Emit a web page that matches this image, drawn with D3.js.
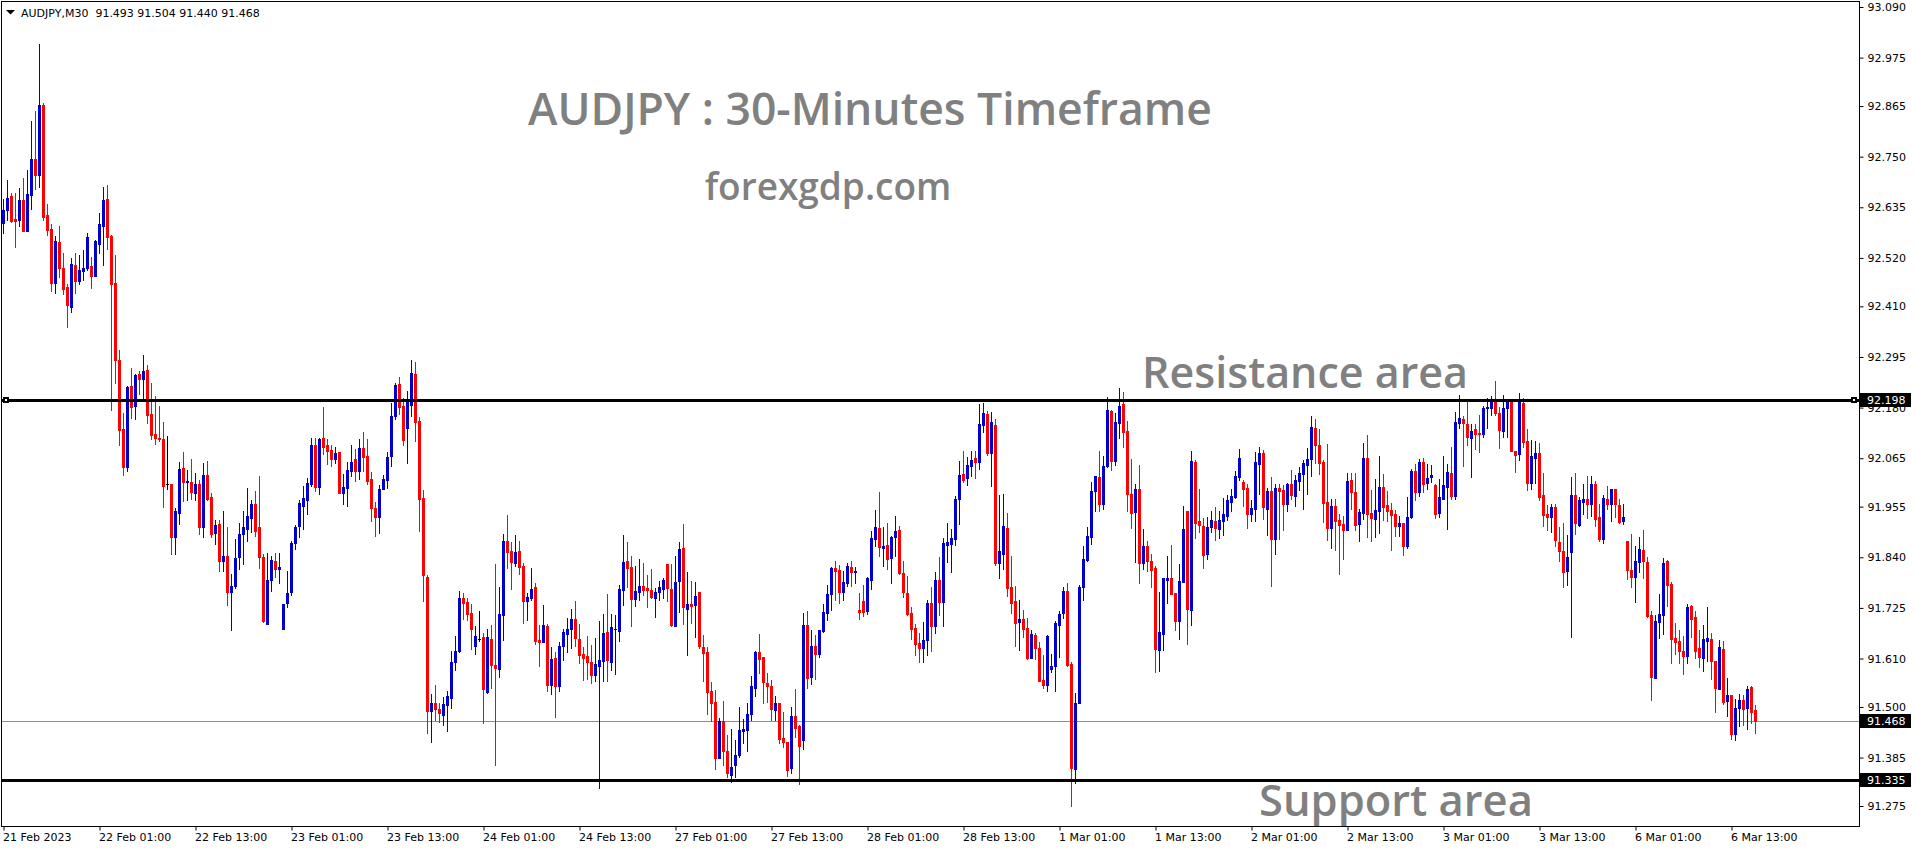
<!DOCTYPE html>
<html><head><meta charset="utf-8">
<script src="https://cdn.jsdelivr.net/npm/d3@7"></script>
<style>body{margin:0;background:#fff;overflow:hidden}svg{display:block}</style>
</head><body>
<svg id="chart" width="1916" height="850"></svg>
<script>
// ---------------- DATA ----------------
const headerText = "AUDJPY,M30  91.493 91.504 91.440 91.468";
const titleText = "AUDJPY : 30-Minutes Timeframe";
const siteText = "forexgdp.com";
const resistanceText = "Resistance area";
const supportText = "Support area";

const timeLabels = ["21 Feb 2023","22 Feb 01:00","22 Feb 13:00","23 Feb 01:00","23 Feb 13:00","24 Feb 01:00","24 Feb 13:00","27 Feb 01:00","27 Feb 13:00","28 Feb 01:00","28 Feb 13:00","1 Mar 01:00","1 Mar 13:00","2 Mar 01:00","2 Mar 13:00","3 Mar 01:00","3 Mar 13:00","6 Mar 01:00","6 Mar 13:00"];
const timeLabelBars = [0,24,48,72,96,120,144,168,192,216,240,264,288,312,336,360,384,408,432];
const priceTicks = [93.090,92.975,92.865,92.750,92.635,92.520,92.410,92.295,92.180,92.065,91.955,91.840,91.725,91.610,91.500,91.385,91.275];
const resistanceLevel = 92.198;
const supportLevel = 91.335;
const lastPrice = 91.468;

const open = [
92.599,92.629,92.661,92.609,92.607,92.651,92.582,92.662,92.745,92.709,
92.867,92.618,92.586,92.463,92.557,92.498,92.454,92.409,92.504,92.468,
92.490,92.496,92.502,92.480,92.552,92.593,92.654,92.570,92.463,92.289,
92.132,92.046,92.230,92.183,92.256,92.244,92.266,92.166,92.120,92.111,
92.109,92.006,92.006,91.885,91.941,92.043,92.010,92.012,91.985,92.006,
91.909,92.027,91.977,91.895,91.915,91.832,91.843,91.762,91.775,91.841,
91.893,91.905,91.930,91.961,91.908,91.841,91.689,91.788,91.832,91.813,
91.676,91.737,91.762,91.872,91.910,91.956,91.970,92.006,92.095,92.000,
92.111,92.095,92.084,92.063,92.079,91.987,91.998,92.036,92.063,92.036,
92.089,92.070,92.018,91.952,91.932,91.994,92.016,92.069,92.161,92.234,
92.184,92.134,92.187,92.256,92.150,91.975,91.795,91.490,91.510,91.495,
91.482,91.505,91.521,91.601,91.627,91.748,91.738,91.714,91.639,91.654,
91.659,91.535,91.654,91.595,91.587,91.709,91.877,91.854,91.828,91.854,
91.820,91.741,91.748,91.773,91.652,91.648,91.684,91.550,91.611,91.548,
91.638,91.666,91.676,91.700,91.654,91.620,91.616,91.602,91.573,91.593,
91.605,91.670,91.602,91.676,91.673,91.766,91.832,91.818,91.745,91.760,
91.775,91.770,91.766,91.748,91.761,91.769,91.825,91.768,91.685,91.785,
91.861,91.723,91.734,91.732,91.761,91.637,91.625,91.536,91.511,91.383,
91.468,91.400,91.346,91.369,91.391,91.446,91.448,91.485,91.543,91.625,
91.614,91.554,91.548,91.493,91.509,91.430,91.421,91.361,91.480,91.457,
91.424,91.686,91.568,91.638,91.620,91.673,91.714,91.757,91.816,91.811,
91.760,91.782,91.818,91.807,91.720,91.741,91.718,91.788,91.882,91.906,
91.861,91.868,91.839,91.885,91.902,91.804,91.759,91.714,91.679,91.645,
91.635,91.651,91.736,91.683,91.788,91.739,91.869,91.871,91.882,91.973,
92.029,92.019,92.048,92.066,92.057,92.141,92.165,92.078,92.141,91.828,
91.848,91.907,91.773,91.741,91.692,91.700,91.680,91.612,91.664,91.634,
91.561,91.549,91.587,91.592,91.687,91.714,91.764,91.598,91.359,91.509,
91.773,91.834,91.887,91.991,92.022,91.962,92.047,92.172,92.059,92.145,
92.188,92.127,91.984,91.943,91.995,91.827,91.866,91.832,91.816,91.629,
91.666,91.788,91.793,91.759,91.695,91.784,91.945,91.720,92.056,91.922,
91.911,91.847,91.909,91.922,91.904,91.922,91.934,91.966,91.977,92.022,
92.011,91.998,91.938,91.950,92.052,92.077,91.950,91.991,91.882,91.997,
91.993,91.961,92.006,91.979,92.013,92.029,92.050,92.063,92.134,92.095,
92.056,91.966,91.907,91.957,91.925,91.916,91.901,92.016,91.988,91.916,
91.941,92.066,91.941,91.928,91.944,92.000,91.959,91.947,91.938,91.910,
91.918,91.866,91.932,92.036,91.989,92.056,92.009,92.023,92.004,91.941,
91.973,92.000,92.031,91.979,92.144,92.154,92.143,92.111,92.131,92.122,
92.120,92.178,92.179,92.193,92.168,92.127,92.178,92.193,92.081,92.075,
92.190,92.104,92.009,92.066,92.077,91.982,91.938,91.932,91.954,91.875,
91.854,91.809,91.852,91.981,91.913,91.966,91.972,91.961,92.006,91.932,
91.882,91.972,91.961,91.995,91.959,91.923,91.877,91.811,91.795,91.829,
91.857,91.829,91.709,91.566,91.693,91.709,91.832,91.779,91.657,91.650,
91.627,91.616,91.729,91.704,91.634,91.611,91.650,91.654,91.604,91.541,
91.632,91.514,91.527,91.439,91.498,91.516,91.498,91.545,91.493];

const high = [
92.653,92.698,92.667,92.667,92.678,92.702,92.719,92.832,92.854,93.006,
92.872,92.643,92.598,92.570,92.593,92.531,92.460,92.520,92.531,92.527,
92.538,92.577,92.522,92.561,92.622,92.682,92.686,92.571,92.527,92.311,
92.168,92.230,92.271,92.256,92.263,92.299,92.277,92.237,92.207,92.183,
92.147,92.115,92.006,91.953,92.057,92.079,92.038,92.063,92.031,92.015,
92.054,92.059,91.987,91.925,91.925,91.946,91.909,91.802,91.881,91.918,
91.945,91.997,91.970,91.991,92.025,91.847,91.850,91.843,91.850,91.850,
91.733,91.809,91.877,91.913,91.969,92.001,92.020,92.111,92.111,92.110,
92.181,92.109,92.094,92.090,92.079,92.029,92.056,92.095,92.086,92.109,
92.125,92.109,92.034,91.966,92.004,92.027,92.079,92.190,92.237,92.249,
92.201,92.218,92.288,92.284,92.159,91.993,91.800,91.530,91.550,91.510,
91.522,91.536,91.627,91.661,91.763,91.759,91.748,91.733,91.684,91.718,
91.667,91.677,91.686,91.825,91.773,91.893,91.936,91.875,91.891,91.877,
91.827,91.758,91.816,91.782,91.686,91.732,91.689,91.636,91.625,91.648,
91.677,91.702,91.723,91.741,91.689,91.636,91.661,91.641,91.657,91.695,
91.711,91.757,91.711,91.709,91.777,91.891,91.875,91.843,91.820,91.836,
91.827,91.800,91.813,91.770,91.786,91.793,91.825,91.825,91.843,91.875,
91.916,91.807,91.786,91.784,91.761,91.663,91.636,91.557,91.539,91.475,
91.514,91.436,91.450,91.425,91.500,91.473,91.509,91.570,91.627,91.666,
91.614,91.577,91.561,91.525,91.509,91.489,91.421,91.500,91.541,91.459,
91.713,91.718,91.675,91.663,91.675,91.734,91.777,91.818,91.832,91.823,
91.809,91.827,91.832,91.818,91.759,91.777,91.795,91.900,91.947,91.988,
91.909,91.917,91.888,91.934,91.910,91.831,91.798,91.727,91.689,91.668,
91.693,91.743,91.773,91.807,91.841,91.884,91.918,91.904,91.979,92.059,
92.081,92.068,92.081,92.081,92.188,92.190,92.172,92.170,92.154,91.981,
91.984,91.941,91.843,91.775,91.743,91.720,91.703,91.675,91.668,91.648,
91.618,91.664,91.620,91.696,91.718,91.773,91.782,91.602,91.532,91.777,
91.866,91.909,92.010,92.025,92.081,92.070,92.205,92.174,92.168,92.225,
92.215,92.150,92.063,92.006,92.050,91.904,91.877,91.847,91.820,91.761,
91.793,91.843,91.868,91.759,91.825,91.956,91.945,92.081,92.061,91.995,
91.929,91.931,91.945,91.954,91.945,91.975,91.981,91.995,92.036,92.086,
92.016,92.006,91.970,92.079,92.090,92.084,91.997,92.022,92.006,92.006,
92.004,92.009,92.038,92.027,92.045,92.061,92.088,92.161,92.154,92.131,
92.061,92.097,91.972,91.972,91.938,91.934,92.031,92.031,92.031,91.950,
92.100,92.118,91.993,92.018,92.070,92.029,91.991,91.963,91.947,91.934,
91.918,91.977,92.041,92.052,92.063,92.066,92.052,92.050,92.006,92.018,
92.070,92.052,92.091,92.170,92.209,92.161,92.193,92.143,92.143,92.163,
92.184,92.202,92.206,92.240,92.182,92.209,92.197,92.197,92.081,92.213,
92.202,92.131,92.106,92.104,92.100,92.031,91.959,91.961,91.961,91.909,
91.918,91.891,92.022,92.031,91.977,92.006,92.025,92.025,92.013,91.961,
91.981,92.002,91.995,91.995,91.972,91.961,91.877,91.893,91.866,91.886,
91.902,91.841,91.718,91.709,91.757,91.838,91.834,91.784,91.691,91.675,
91.661,91.734,91.732,91.718,91.675,91.686,91.727,91.668,91.604,91.652,
91.650,91.566,91.527,91.518,91.530,91.527,91.548,91.548,91.504];

const low = [
92.576,92.607,92.602,92.544,92.593,92.582,92.582,92.631,92.677,92.682,
92.607,92.571,92.444,92.441,92.477,92.437,92.362,92.398,92.441,92.460,
92.470,92.493,92.452,92.479,92.531,92.505,92.541,92.175,92.237,92.096,
92.028,92.035,92.157,92.154,92.211,92.198,92.144,92.109,92.098,92.105,
91.954,91.994,91.847,91.847,91.916,91.967,91.971,91.973,91.969,91.894,
91.887,91.971,91.887,91.870,91.809,91.809,91.732,91.675,91.771,91.813,
91.825,91.877,91.898,91.888,91.816,91.694,91.689,91.764,91.796,91.782,
91.676,91.728,91.754,91.859,91.887,91.904,91.939,92.003,91.991,91.984,
92.074,92.052,92.047,92.054,91.986,91.961,91.957,92.025,92.014,92.017,
92.037,92.006,91.922,91.889,91.896,91.994,91.998,92.048,92.155,92.166,
92.096,92.055,92.161,92.105,91.900,91.741,91.440,91.420,91.470,91.465,
91.459,91.446,91.498,91.584,91.625,91.700,91.698,91.632,91.620,91.650,
91.464,91.532,91.544,91.368,91.569,91.653,91.816,91.769,91.820,91.801,
91.691,91.698,91.742,91.644,91.594,91.648,91.536,91.530,91.478,91.537,
91.607,91.625,91.634,91.639,91.600,91.561,91.564,91.555,91.558,91.317,
91.558,91.560,91.584,91.575,91.650,91.732,91.773,91.684,91.729,91.743,
91.754,91.727,91.748,91.704,91.743,91.748,91.741,91.685,91.685,91.716,
91.689,91.619,91.691,91.660,91.633,91.560,91.485,91.469,91.360,91.383,
91.369,91.342,91.329,91.340,91.387,91.419,91.399,91.470,91.525,91.578,
91.508,91.512,91.470,91.471,91.419,91.408,91.343,91.349,91.431,91.324,
91.405,91.542,91.553,91.564,91.614,91.670,91.698,91.720,91.743,91.735,
91.743,91.775,91.775,91.782,91.700,91.707,91.711,91.768,91.866,91.843,
91.820,91.814,91.782,91.844,91.801,91.749,91.708,91.654,91.619,91.601,
91.601,91.619,91.628,91.667,91.710,91.683,91.830,91.807,91.869,91.916,
92.012,92.005,92.025,92.021,92.041,92.125,92.073,92.003,91.823,91.794,
91.814,91.751,91.714,91.639,91.630,91.660,91.608,91.612,91.610,91.558,
91.542,91.537,91.580,91.537,91.614,91.703,91.594,91.274,91.328,91.508,
91.744,91.832,91.871,91.946,91.944,91.950,92.045,92.038,92.050,92.111,
92.090,91.945,91.907,91.829,91.782,91.813,91.809,91.772,91.579,91.582,
91.629,91.736,91.757,91.675,91.654,91.784,91.643,91.686,91.884,91.897,
91.816,91.836,91.897,91.879,91.884,91.891,91.925,91.945,91.975,92.015,
91.956,91.907,91.922,91.922,91.984,91.927,91.891,91.775,91.847,91.882,
91.902,91.945,91.972,91.956,91.993,91.950,91.984,92.025,92.054,92.029,
91.920,91.880,91.860,91.857,91.801,91.837,91.901,91.950,91.903,91.876,
91.928,91.887,91.878,91.885,91.896,91.925,91.923,91.857,91.889,91.889,
91.846,91.862,91.930,91.969,91.980,91.989,91.996,92.010,91.930,91.932,
91.973,91.905,91.973,91.973,92.134,92.048,92.095,92.023,92.086,92.080,
92.113,92.134,92.164,92.164,92.089,92.113,92.114,92.081,92.034,92.062,
92.091,91.992,91.995,92.009,91.970,91.910,91.902,91.897,91.866,91.832,
91.773,91.777,91.659,91.893,91.911,91.938,91.929,91.934,91.911,91.877,
91.873,91.950,91.922,91.932,91.918,91.916,91.791,91.773,91.739,91.807,
91.793,91.704,91.516,91.566,91.657,91.666,91.729,91.600,91.620,91.600,
91.575,91.600,91.659,91.611,91.591,91.582,91.604,91.564,91.489,91.541,
91.507,91.480,91.427,91.425,91.457,91.459,91.450,91.464,91.440];

const close = [
92.630,92.656,92.604,92.605,92.651,92.582,92.666,92.745,92.709,92.867,
92.614,92.584,92.463,92.559,92.496,92.450,92.412,92.506,92.467,92.492,
92.496,92.567,92.478,92.559,92.598,92.651,92.567,92.461,92.287,92.130,
92.046,92.227,92.181,92.254,92.244,92.263,92.164,92.118,92.111,92.109,
92.003,92.006,91.887,91.946,92.041,92.012,92.014,91.988,92.006,91.909,
92.027,91.973,91.894,91.914,91.832,91.843,91.760,91.775,91.838,91.894,
91.908,91.934,91.962,91.900,91.841,91.695,91.788,91.834,91.813,91.818,
91.733,91.758,91.872,91.908,91.963,91.975,92.008,92.095,92.000,92.109,
92.091,92.081,92.063,92.077,91.987,92.000,92.038,92.057,92.037,92.088,
92.067,92.013,91.951,91.932,91.995,92.018,92.068,92.161,92.231,92.182,
92.107,92.197,92.259,92.148,91.973,91.799,91.490,91.510,91.495,91.486,
91.506,91.525,91.601,91.627,91.748,91.735,91.712,91.676,91.661,91.654,
91.541,91.659,91.595,91.589,91.711,91.877,91.853,91.830,91.852,91.819,
91.741,91.750,91.769,91.650,91.648,91.686,91.550,91.609,91.548,91.638,
91.670,91.677,91.700,91.657,91.618,91.611,91.602,91.573,91.598,91.607,
91.668,91.607,91.682,91.678,91.768,91.829,91.816,91.745,91.763,91.775,
91.766,91.766,91.750,91.761,91.773,91.788,91.771,91.686,91.784,91.859,
91.726,91.734,91.730,91.752,91.639,91.623,91.533,91.508,91.383,91.468,
91.401,91.351,91.364,91.391,91.448,91.450,91.484,91.548,91.625,91.610,
91.557,91.548,91.495,91.509,91.427,91.421,91.357,91.480,91.453,91.411,
91.686,91.566,91.638,91.621,91.675,91.716,91.757,91.816,91.809,91.760,
91.784,91.820,91.807,91.809,91.716,91.716,91.793,91.884,91.909,91.864,
91.866,91.836,91.886,91.900,91.804,91.760,91.711,91.678,91.644,91.635,
91.652,91.736,91.683,91.788,91.739,91.873,91.875,91.884,91.972,92.027,
92.016,92.050,92.061,92.057,92.143,92.168,92.078,92.147,91.826,91.854,
91.911,91.771,91.737,91.691,91.700,91.676,91.612,91.666,91.633,91.560,
91.549,91.661,91.594,91.691,91.711,91.764,91.595,91.362,91.509,91.773,
91.836,91.889,91.991,92.025,91.962,92.047,92.175,92.059,92.147,92.184,
92.125,91.984,91.941,91.995,91.827,91.866,91.832,91.811,91.632,91.670,
91.793,91.793,91.757,91.695,91.786,91.904,91.723,92.059,91.918,91.913,
91.845,91.909,91.925,91.906,91.925,91.938,91.970,91.979,92.025,92.066,
91.995,91.938,91.952,92.056,92.077,91.954,91.991,91.882,91.997,91.991,
91.961,92.006,91.981,92.015,92.031,92.054,92.063,92.136,92.095,92.054,
91.963,91.907,91.957,91.923,91.914,91.901,92.013,91.989,91.914,91.943,
92.066,91.939,91.930,91.948,92.000,91.955,91.944,91.937,91.912,91.918,
91.866,91.932,92.036,91.989,92.056,92.007,92.020,92.027,91.939,91.977,
92.004,92.034,91.979,92.147,92.156,92.146,92.114,92.127,92.121,92.121,
92.179,92.181,92.193,92.168,92.129,92.179,92.193,92.081,92.072,92.193,
92.102,92.009,92.070,92.077,91.977,91.937,91.932,91.954,91.879,91.854,
91.807,91.841,91.981,91.918,91.970,91.972,91.961,92.006,91.927,91.882,
91.975,91.961,91.995,91.961,91.920,91.931,91.811,91.795,91.832,91.859,
91.832,91.707,91.568,91.695,91.711,91.827,91.777,91.654,91.648,91.627,
91.616,91.727,91.700,91.627,91.614,91.654,91.657,91.604,91.543,91.636,
91.511,91.527,91.439,91.498,91.516,91.496,91.541,91.489,91.468];

// ---------------- LAYOUT ----------------
const W = 1916, H = 850;
const plotL = 2, plotR = 1859, plotT = 2, plotB = 826;
const BULL = "#0000CD", BEAR = "#FF0000", DOJI = "#000000";
const TXT_GRAY = "#808080";

const svg = d3.select("#chart");
svg.append("rect").attr("width", W).attr("height", H).attr("fill", "#fff");

const n = close.length;
const x = d3.scaleBand().domain(d3.range(n))
  .range([1.5, 1.5 + 4 * n]).paddingInner(0.25).paddingOuter(0.125);
const y = d3.scaleLinear().domain([91.275, 93.090]).range([806, 7]);
const py = v => Math.round(y(v));

// big watermark texts (behind candles)
const big = svg.append("g").attr("font-family", "'Open Sans', sans-serif").attr("font-weight", 600).attr("fill", TXT_GRAY).attr("text-anchor", "middle");
big.append("text").attr("x", 870).attr("y", 125).attr("font-size", 44.5).text(titleText);
big.append("text").attr("x", 828).attr("y", 200).attr("font-size", 37).text(siteText);
big.append("text").attr("x", 1305).attr("y", 388).attr("font-size", 43).text(resistanceText);
big.append("text").attr("x", 1396).attr("y", 816).attr("font-size", 43.5).text(supportText);

// current price line
svg.append("line").attr("x1", plotL).attr("x2", plotR)
  .attr("y1", py(lastPrice) + 0.5).attr("y2", py(lastPrice) + 0.5)
  .attr("stroke", "#8090a0").attr("stroke-width", 1);

// candles
const cg = svg.append("g").attr("shape-rendering", "crispEdges");
const bars = d3.range(n).map(i => ({i, o: open[i], h: high[i], l: low[i], c: close[i]}));
const col = d => d.c > d.o ? BULL : (d.c < d.o ? BEAR : DOJI);
cg.selectAll("rect.wick").data(bars).join("rect").attr("class", "wick")
  .attr("x", d => x(d.i) + 1).attr("width", 1)
  .attr("y", d => py(d.h)).attr("height", d => Math.max(1, py(d.l) - py(d.h) + 1))
  .attr("fill", col);
cg.selectAll("rect.body").data(bars).join("rect").attr("class", "body")
  .attr("x", d => x(d.i)).attr("width", x.bandwidth())
  .attr("y", d => py(Math.max(d.o, d.c)))
  .attr("height", d => Math.max(1, py(Math.min(d.o, d.c)) - py(Math.max(d.o, d.c)) + 1))
  .attr("fill", col);

// horizontal levels
[resistanceLevel, supportLevel].forEach(v => {
  svg.append("rect").attr("x", plotL).attr("width", plotR - plotL)
    .attr("y", py(v) - 1).attr("height", 3).attr("fill", "#000").attr("shape-rendering", "crispEdges");
});
// selection markers on resistance line
[plotL + 1, plotR - 8].forEach(px => {
  svg.append("rect").attr("x", px).attr("y", py(resistanceLevel) - 3).attr("width", 6).attr("height", 6)
    .attr("fill", "#000").attr("shape-rendering", "crispEdges");
  svg.append("rect").attr("x", px + 2).attr("y", py(resistanceLevel) - 1).attr("width", 2).attr("height", 2)
    .attr("fill", "#fff").attr("shape-rendering", "crispEdges");
});

// frame
svg.append("rect").attr("x", plotL - 0.5).attr("y", plotT - 0.5)
  .attr("width", plotR - plotL + 1).attr("height", plotB - plotT + 1)
  .attr("fill", "none").attr("stroke", "#000").attr("stroke-width", 1);

// right price axis
const axR = svg.append("g").attr("transform", `translate(${plotR + 0.5},0)`)
  .call(d3.axisRight(y).tickValues(priceTicks).tickFormat(d3.format(".3f")).tickSize(4).tickPadding(4));
axR.select(".domain").remove();
axR.selectAll("line").attr("stroke", "#000");
axR.selectAll("text").attr("font-family", "'DejaVu Sans', sans-serif").attr("font-size", 11).attr("fill", "#000");

// highlighted price labels
[resistanceLevel, lastPrice, supportLevel].forEach(v => {
  const yy = py(v);
  svg.append("rect").attr("x", plotR + 1).attr("y", yy - 7).attr("width", 51).attr("height", 14).attr("fill", "#000");
  svg.append("text").attr("x", plotR + 8).attr("y", yy + 4).attr("font-family", "'DejaVu Sans', sans-serif")
    .attr("font-size", 11).attr("fill", "#fff").text(d3.format(".3f")(v));
});

// bottom time axis
const tx = d3.scaleLinear().domain([0, n]).range([x(0) + 1.5, x(0) + 1.5 + 4 * n]);
const axB = svg.append("g").attr("transform", `translate(0,${plotB + 0.5})`)
  .call(d3.axisBottom(tx).tickValues(timeLabelBars).tickFormat((d, k) => timeLabels[k]).tickSize(4).tickPadding(3));
axB.select(".domain").remove();
axB.selectAll("line").attr("stroke", "#000");
axB.selectAll("text").attr("text-anchor", "start").attr("dx", -1)
  .attr("font-family", "'DejaVu Sans', sans-serif").attr("font-size", 11).attr("fill", "#000");

// header
svg.append("path").attr("d", "M6,10 L15,10 L10.5,14.5 Z").attr("fill", "#000");
svg.append("text").attr("x", 21).attr("y", 17).attr("font-family", "'DejaVu Sans', sans-serif")
  .attr("font-size", 11).attr("fill", "#000").attr("xml:space", "preserve").style("white-space", "pre").text(headerText);
</script>
</body></html>
